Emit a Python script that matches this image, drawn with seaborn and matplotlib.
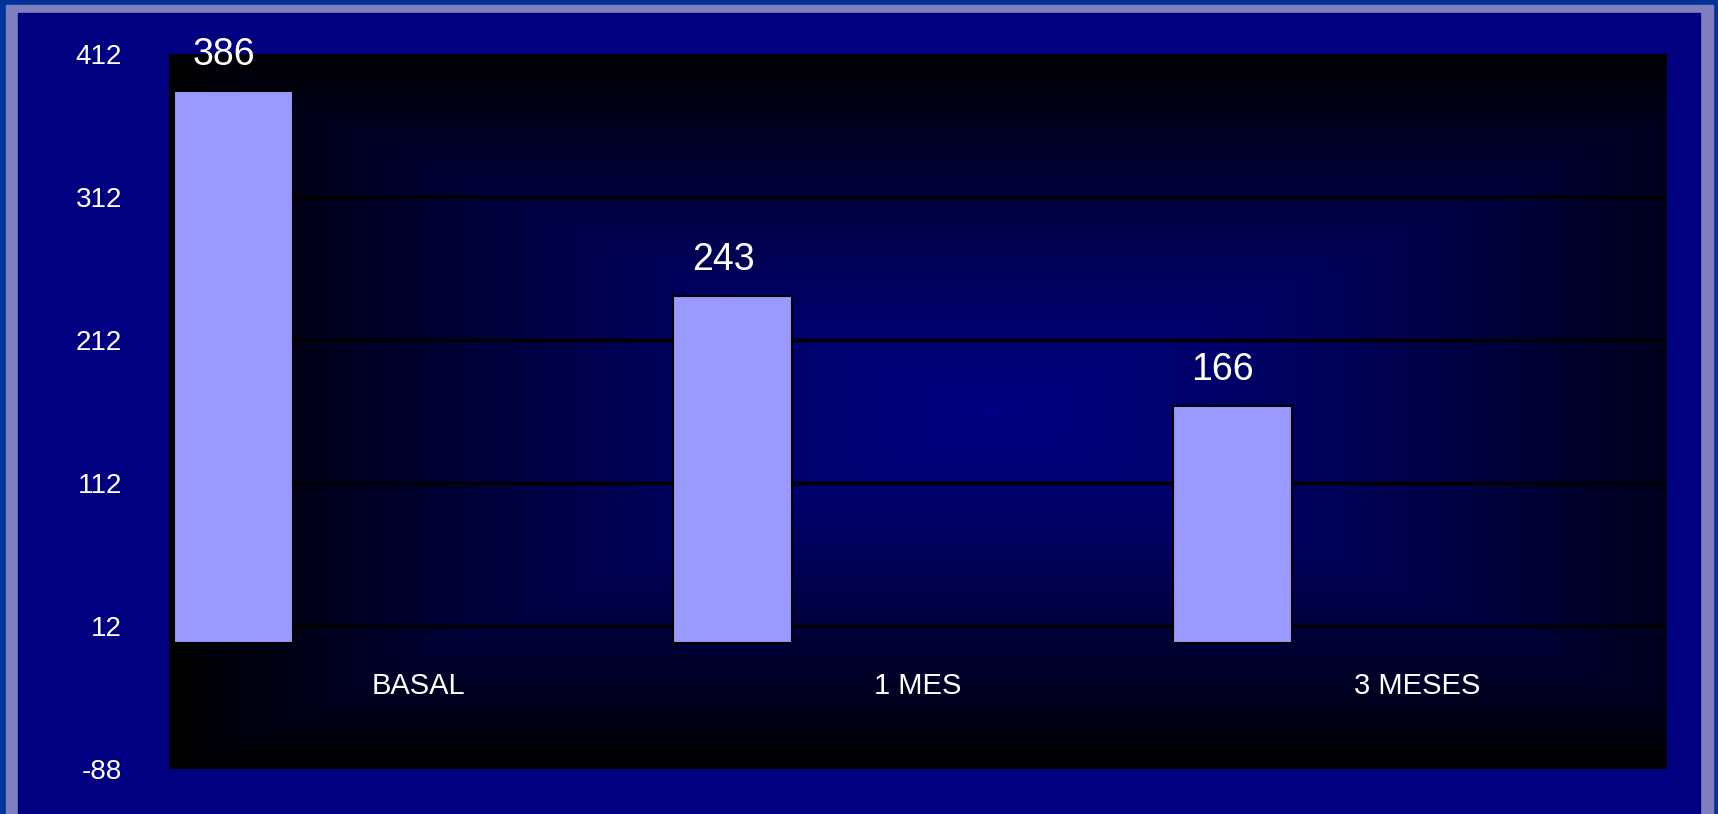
import numpy as np
import pandas as pd
import seaborn as sns
import matplotlib.pyplot as plt
from matplotlib.patches import Rectangle
from matplotlib.colors import LinearSegmentedColormap

# datos del grafico
categorias = ["BASAL", "1 MES", "3 MESES"]
valores = [386, 243, 166]
ticks_y = [412, 312, 212, 112, 12, -88]

df = pd.DataFrame({"periodo": categorias, "valor": valores})

sns.set_theme(style="white")
plt.rcParams['font.family'] = ['Liberation Sans', 'DejaVu Sans']

fig = plt.figure(figsize=(17.18, 8.14), dpi=100, facecolor="#003399")

# marco de la diapositiva
W, H = 1718, 814
fig.patches.append(Rectangle((6 / W, -0.1), (1713 - 6) / W, (H - 5) / H + 0.1,
                             transform=fig.transFigure, color="#7F7FBF", zorder=-3))
fig.patches.append(Rectangle((18 / W, -0.1), (1700 - 18) / W, (H - 13) / H + 0.1,
                             transform=fig.transFigure, color="#000080", zorder=-2))

ax = fig.add_axes([169 / W, 45 / H, 1498 / W, 715 / H])

# fondo degradado (desde el centro)
nx, ny = 600, 300
xx, yy = np.meshgrid(np.linspace(0, 1, nx), np.linspace(0, 1, ny))
cx, cy = 0.55, 0.5
t = np.maximum(np.abs(xx - cx) / max(cx, 1 - cx), np.abs(yy - cy) / max(cy, 1 - cy))
t = np.clip(t, 0, 1) ** 1.3
cmap = LinearSegmentedColormap.from_list("fondo", ["#000080", "#000000"])
ax.imshow(t, cmap=cmap, extent=[0, 1, 0, 1], transform=ax.transAxes,
          aspect="auto", zorder=-1, origin="lower", vmin=0, vmax=1)

sns.barplot(data=df, x="periodo", y="valor", width=0.238, color="#9999FF",
            saturation=1, edgecolor="black", linewidth=1.5, ax=ax)

ax.set_xlim(-0.129, 2.871)
ax.set_ylim(-88, 412)
ax.set_yticks(ticks_y)
ax.set_yticklabels([str(v) for v in ticks_y], color="white", fontsize=20)
ax.tick_params(axis="y", pad=34, length=0)
ax.set_xticks([])
ax.set_xlabel("")
ax.set_ylabel("")
ax.grid(axis="y", color="black", linewidth=2.5)
ax.set_axisbelow(True)
for s in ax.spines.values():
    s.set_visible(False)

# etiquetas de valores
for i, v in enumerate(valores):
    ax.annotate(str(v), (i, v), xytext=(-7, 26), textcoords="offset points",
                ha="center", va="center", color="white", fontsize=27, zorder=3)

# etiquetas de categorias
for i, c in enumerate(categorias):
    ax.text(i + 0.371, -30, c, ha="center", va="center", color="white",
            fontsize=21, zorder=3)

fig.savefig("out.png", dpi=100, facecolor=fig.get_facecolor())
